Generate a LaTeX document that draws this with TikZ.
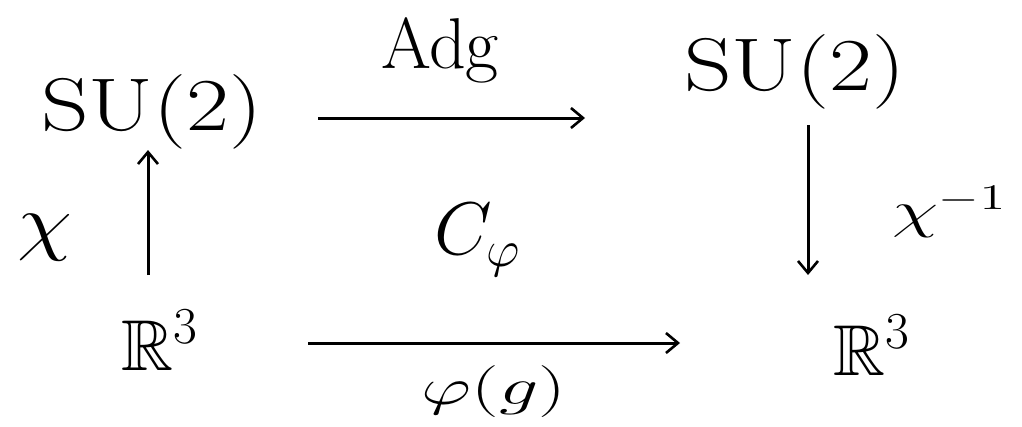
\documentclass[tikz,border=0pt]{standalone}
\usepackage{amssymb}
\usetikzlibrary{arrows.meta,calc}
\begin{document}
\begin{tikzpicture}[x=1pt,y=-1pt,
  big/.style={font=\fontsize{24}{28}\selectfont, inner sep=0pt, scale=3, transform shape},
  mid/.style={font=\fontsize{18}{22}\selectfont, inner sep=0pt, scale=3, transform shape},
  wide/.style={xscale=1.25},
  arr/.style={line width=3pt, -{Straight Barb[length=12pt,width=20pt,line width=2.6pt]}}]
\useasboundingbox (0,0) rectangle (1022,426);
\node[big,wide] (su1) at (152,112) {$\mathrm{SU}(2)$};
\node[big,wide] (su2) at (795,72) {$\mathrm{SU}(2)$};
\node[big] (r1) at (160,340) {$\mathbb{R}^3$};
\node[big] (r2) at (872,345) {$\mathbb{R}^3$};
\node[big] (adg) at (440,50) {Adg};
\node[big,xscale=1.2] (chi) at (45,238) {$\chi$};
\node[mid,xscale=1.45] (chiinv) at (950,212) {$\chi^{-1}$};
\node[big] (cphi) at (478,240) {$C_{\varphi}$};
\node[mid,xscale=1.5] (phig) at (494,392) {$\varphi(g)$};
\draw[arr] ($(su1)+(166,6)$) -- ($(su2)+(-210,46)$);
\draw[arr] ($(r1)+(-12,-65)$) -- ($(su1)+(-4,38)$);
\draw[arr] ($(su2)+(13,53)$) -- ($(r2)+(-64,-70)$);
\draw[arr] ($(r1)+(148,3)$) -- ($(r2)+(-192,-2)$);
\end{tikzpicture}
\end{document}
